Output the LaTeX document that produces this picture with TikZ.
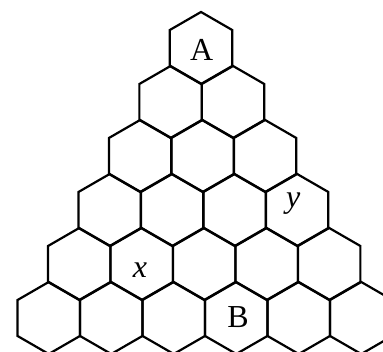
\documentclass[tikz,border=0pt]{standalone}
\usepackage{fontspec}
\setmainfont{Liberation Serif}
\begin{document}
\begin{tikzpicture}[x=1pt,y=1pt,
  hexline/.style={line width=2.2pt, line join=miter},
  lab/.style={inner sep=0pt, font=\fontsize{32}{38}\selectfont}]
\useasboundingbox (0,0) rectangle (383,352);
\clip (0,0) rectangle (383,352);
\foreach \r in {0,...,5}{
  \foreach \i in {0,...,\r}{
    \pgfmathsetmacro{\cx}{201+0.8*\r+(\i-\r/2)*62.5}
    \pgfmathsetmacro{\cy}{352-48-54*\r}
    \draw[hexline] (\cx,\cy) +(90:36) -- +(150:36) -- +(210:36) -- +(270:36) -- +(330:36) -- +(30:36) -- cycle;
  }
}
\node[lab] (A) at (201.7,302) {A};
\node[lab] (B) at (238,35.3) {B};
\node[lab] (x) at (140,82) {\itshape x};
\node[lab] (y) at (293.3,148) {\itshape y};
\end{tikzpicture}
\end{document}
